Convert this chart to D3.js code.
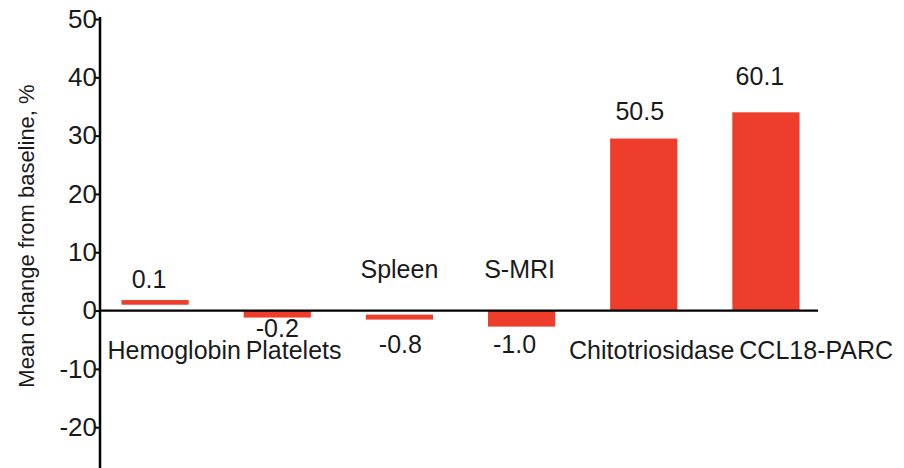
<!DOCTYPE html>
<html><head><meta charset="utf-8">
<script src="https://cdn.jsdelivr.net/npm/d3@7/dist/d3.min.js"></script>
<style>
html,body{margin:0;padding:0;background:#fff;}
svg{display:block;font-family:"Liberation Sans",Arial,Helvetica,sans-serif;}
</style></head>
<body>
<svg id="chart" width="904" height="468"></svg>
<script>
// ---- data ----
const categories = ["Hemoglobin","Platelets","Spleen","S-MRI","Chitotriosidase","CCL18-PARC"];
const valueLabels = ["0.1","-0.2","-0.8","-1.0","50.5","60.1"];
// bar extents as drawn (in axis units)
const barLow  = [1.0, -1.2, -1.55, -2.75, 0, 0];
const barHigh = [1.8,  0,   -0.7,   0,   29.5, 34.0];
const yTicks = [-20,-10,0,10,20,30,40,50];

// ---- layout of the text labels ----
const catPlace = ["belowLeft","belowLeft","above","above","below","belowLeft"];
const catDx    = [-14, 2, 0, -2, 8, 7];
const valDx    = [-6, 0, 1, -7, -4, -6];
const valLift  = [5, 0, 0, 0, 12, 20];

const svg = d3.select("#chart");
const color = "#EE3D2B";
const ink = "#1a1a1a";

const y = d3.scaleLinear().domain([-27, 50]).range([468, 19]);
const x = d3.scaleBand().domain(categories).range([94, 827]).paddingInner(0.45).paddingOuter(0.225);

// y axis
const yAxis = d3.axisLeft(y).tickValues(yTicks).tickSize(6).tickSizeOuter(0)
  .tickFormat(d => String(d));
const ga = svg.append("g").attr("transform","translate(100,0)").call(yAxis);
ga.select(".domain").attr("stroke","#000").attr("stroke-width",2.5).attr("d","M0,17V468");
ga.selectAll(".tick line").attr("stroke","#000").attr("stroke-width",2);
ga.selectAll(".tick text").attr("x",-3).attr("font-size",26).attr("fill",ink)
  .attr("font-family","'Liberation Sans',Arial,sans-serif");

// y title
svg.append("text").attr("transform","translate(34,236) rotate(-90)")
  .attr("text-anchor","middle").attr("font-size",22).attr("fill",ink)
  .text("Mean change from baseline, %");

const rows = categories.map((c,i)=>({c,i,lo:barLow[i],hi:barHigh[i],lab:valueLabels[i],place:catPlace[i]}));

// bars
svg.append("g").selectAll("rect").data(rows).join("rect")
  .attr("x",d=>x(d.c)).attr("width",x.bandwidth())
  .attr("y",d=>y(d.hi)).attr("height",d=>y(d.lo)-y(d.hi))
  .attr("fill",color);

// zero line
svg.append("line").attr("x1",100).attr("x2",818).attr("y1",y(0)).attr("y2",y(0))
  .attr("stroke","#000").attr("stroke-width",2.2);

const fs = 25;
// category labels
svg.append("g").selectAll("text").data(rows).join("text")
  .attr("font-size",fs).attr("fill",ink)
  .attr("text-anchor",d=>d.place==="belowLeft"?"start":"middle")
  .attr("x",d=>(d.place==="belowLeft"?x(d.c): x(d.c)+x.bandwidth()/2) + catDx[d.i])
  .attr("y",d=>d.place==="above"? y(0)-33 : y(0)+48)
  .text(d=>d.c);

// value labels
svg.append("g").selectAll("text").data(rows).join("text")
  .attr("font-size",fs).attr("fill",ink).attr("text-anchor","middle")
  .attr("x",d=>x(d.c)+x.bandwidth()/2 + valDx[d.i])
  .attr("y",d=>{
    const pos = parseFloat(d.lab) >= 0;
    if (pos) return y(d.hi) - 7 - valLift[d.i];
    if (d.place==="above") return y(0)+42;
    return y(d.lo)+19;
  })
  .text(d=>d.lab);
</script>
</body></html>
